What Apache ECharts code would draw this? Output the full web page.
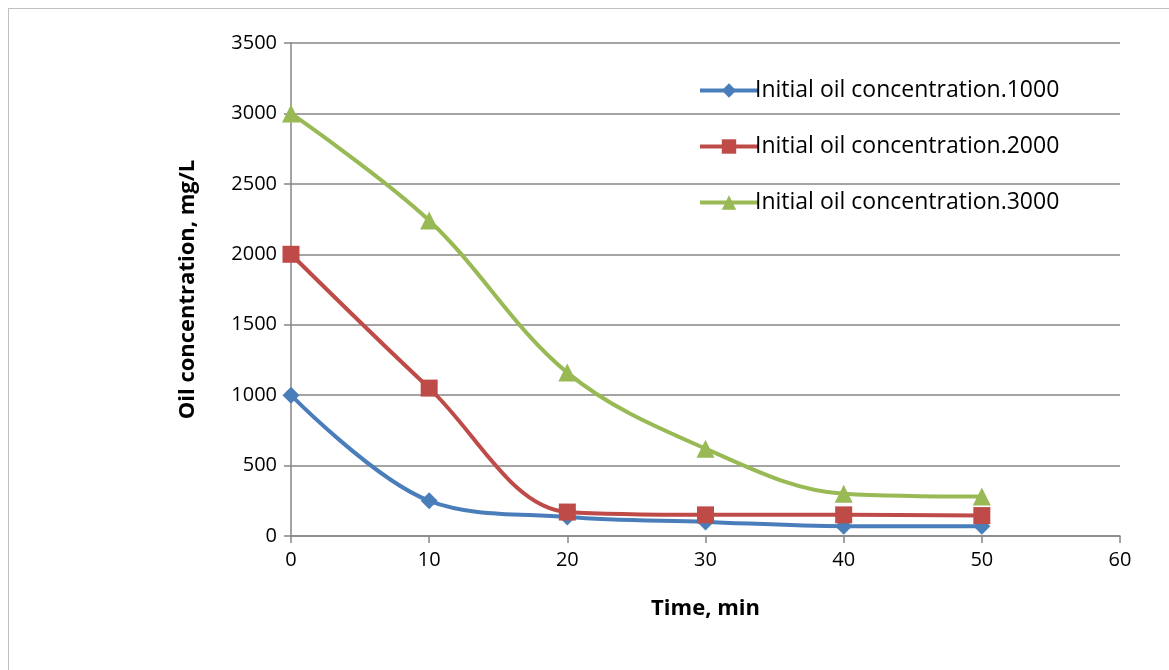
<!DOCTYPE html>
<html><head><meta charset="utf-8">
<script src="https://cdn.jsdelivr.net/npm/echarts@6/dist/echarts.min.js"></script>
<style>html,body{margin:0;padding:0;background:#fff}#c{width:1169px;height:670px}
#frame{position:absolute;left:8px;top:8px;width:1200px;height:700px;border-left:1px solid #bfbfbf;border-top:1px solid #bfbfbf;pointer-events:none}</style>
</head><body><div id="c"></div><div id="frame"></div>
<script>
const times = [0, 10, 20, 30, 40, 50];
const names = ['Initial oil concentration.1000','Initial oil concentration.2000','Initial oil concentration.3000'];
const s1000 = [1000, 250, 135, 100, 70, 70];
const s2000 = [2000, 1050, 170, 150, 150, 145];
const s3000 = [3000, 2240, 1160, 620, 300, 280];
const yTicks = [0, 500, 1000, 1500, 2000, 2500, 3000, 3500];
const xTicks = [0, 10, 20, 30, 40, 50, 60];

const colors = ['#4a7ebb', '#be4b48', '#98b954'];
const symbols = ['diamond', 'rect', 'triangle'];
const sizes = [17, 17, 18];
const vals = [s1000, s2000, s3000];
const font = 'Open Sans, Liberation Sans, sans-serif';

const chart = echarts.init(document.getElementById('c'));
chart.setOption({
  animation: false,
  grid: {left: 291, right: 49, top: 43, bottom: 134, containLabel: false},
  xAxis: {
    type: 'value', min: xTicks[0], max: xTicks[xTicks.length-1], interval: 10,
    name: 'Time, min', nameLocation: 'middle', nameGap: 62,
    nameTextStyle: {fontFamily: font, fontSize: 22, fontWeight: 'bold', color: '#000'},
    axisLine: {show: true, lineStyle: {color: '#868686', width: 1.5}},
    axisTick: {show: true, length: 7, lineStyle: {color: '#868686', width: 1.5}},
    axisLabel: {fontFamily: font, fontSize: 20, color: '#000', margin: 14},
    splitLine: {show: false}
  },
  yAxis: {
    type: 'value', min: yTicks[0], max: yTicks[yTicks.length-1], interval: 500,
    name: 'Oil concentration, mg/L', nameLocation: 'middle', nameGap: 92, nameRotate: 90,
    nameTextStyle: {fontFamily: font, fontSize: 22, fontWeight: 'bold', color: '#000'},
    axisLine: {show: true, lineStyle: {color: '#868686', width: 1.5}},
    axisTick: {show: true, length: 7, lineStyle: {color: '#868686', width: 1.5}},
    axisLabel: {fontFamily: font, fontSize: 20, color: '#000', margin: 14, formatter: v => String(v)},
    splitLine: {show: true, lineStyle: {color: '#868686', width: 1.5}}
  },
  legend: names.map((n, i) => ({
    data: [n], left: 693, top: 74 + i * 56, itemWidth: 58, itemHeight: 18, itemGap: 2,
    lineStyle: {width: 4},
    textStyle: {fontFamily: font, fontSize: 23, color: '#000', padding: [0,0,0,-8]}
  })),
  series: names.map((n, i) => ({
    name: n, type: 'line', smooth: 0.35,
    data: times.map((t, j) => [t, vals[i][j]]),
    symbol: symbols[i], symbolSize: sizes[i],
    lineStyle: {color: colors[i], width: 4},
    itemStyle: {color: colors[i]},
    z: 2 + i
  }))
});
</script></body></html>
